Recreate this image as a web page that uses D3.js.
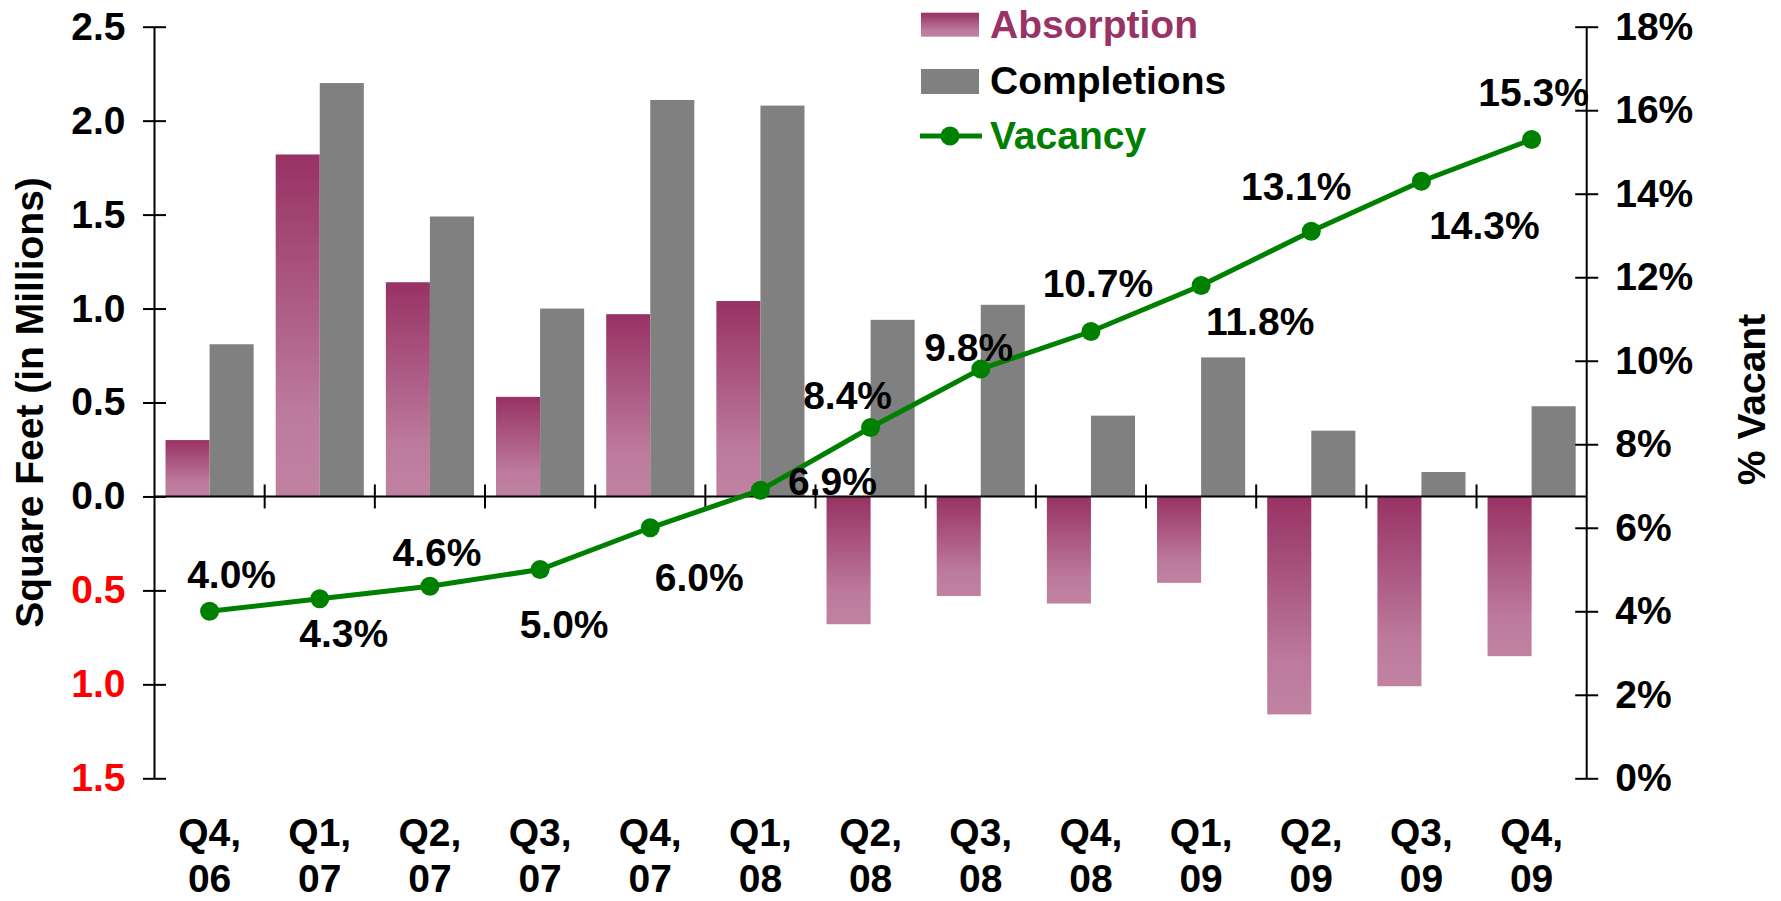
<!DOCTYPE html>
<html>
<head>
<meta charset="utf-8">
<script src="https://cdn.jsdelivr.net/npm/d3@7"></script>
<style>
  body { margin: 0; background: #fff; }
  svg text { font-family: "Liberation Sans", Arial, sans-serif; font-weight: bold; }
</style>
</head>
<body>
<svg width="1781" height="901"></svg>
<script>
// data
var quarters   = ["Q4,|06","Q1,|07","Q2,|07","Q3,|07","Q4,|07","Q1,|08","Q2,|08","Q3,|08","Q4,|08","Q1,|09","Q2,|09","Q3,|09","Q4,|09"];
var absorption = [0.30, 1.82, 1.14, 0.53, 0.97, 1.04, -0.68, -0.53, -0.57, -0.46, -1.16, -1.01, -0.85];
var completions = [0.81, 2.20, 1.49, 1.00, 2.11, 2.08, 0.94, 1.02, 0.43, 0.74, 0.35, 0.13, 0.48];
var vacancy    = [4.0, 4.3, 4.6, 5.0, 6.0, 6.9, 8.4, 9.8, 10.7, 11.8, 13.1, 14.3, 15.3];
var leftTicks  = [-1.5, -1.0, -0.5, 0, 0.5, 1.0, 1.5, 2.0, 2.5];
var rightTicks = [0, 2, 4, 6, 8, 10, 12, 14, 16, 18];

// where each vacancy label sits relative to its point (dx, baseline dy)
var labelDx = [22, 24, 7, 24, 49, 72, -23, -12, 7, 59, -15, 63, 2];
var labelDy = [-23, 48, -20, 68, 63, 5, -19, -8, -35, 49, -31, 58, -33];

var svg = d3.select("svg"),
    margin = {top: 26.7, right: 194.3, bottom: 122.7, left: 154.5},
    W = +svg.attr("width"), H = +svg.attr("height"),
    x0 = margin.left, x1 = W - margin.right,
    yTop = margin.top, yBot = H - margin.bottom;

var fontSize = 39;
var purple = "#993366", grey = "#808080", green = "#008000";

var x = d3.scaleBand().domain(quarters).range([x0, x1]).padding(0);
var xIn = d3.scaleBand().domain(["abs", "comp"]).range([0, x.bandwidth()]).paddingOuter(0.25).paddingInner(0);
var y = d3.scaleLinear().domain([-1.5, 2.5]).range([yBot, yTop]);
var yR = d3.scaleLinear().domain([0, 18]).range([yBot, yTop]);

// gradient for absorption bars
var grad = svg.append("defs").append("linearGradient")
    .attr("id", "absGrad")
    .attr("x1", 0).attr("y1", 0).attr("x2", 0).attr("y2", 1);
grad.append("stop").attr("offset", "0%").attr("stop-color", "#983264");
grad.append("stop").attr("offset", "75%").attr("stop-color", "#BC7A9C");
grad.append("stop").attr("offset", "100%").attr("stop-color", "#C182A2");

// bars
var groups = svg.append("g").selectAll("g")
    .data(quarters)
    .join("g")
    .attr("transform", function(d) { return "translate(" + x(d) + ",0)"; });

groups.append("rect")
    .attr("x", xIn("abs"))
    .attr("width", xIn.bandwidth())
    .attr("y", function(d, i) { return y(Math.max(0, absorption[i])); })
    .attr("height", function(d, i) { return Math.abs(y(absorption[i]) - y(0)); })
    .attr("fill", "url(#absGrad)");

groups.append("rect")
    .attr("x", xIn("comp"))
    .attr("width", xIn.bandwidth())
    .attr("y", function(d, i) { return y(Math.max(0, completions[i])); })
    .attr("height", function(d, i) { return Math.abs(y(completions[i]) - y(0)); })
    .attr("fill", grey);

// zero line with category ticks
svg.append("line")
    .attr("x1", x0).attr("x2", x1)
    .attr("y1", y(0)).attr("y2", y(0))
    .attr("stroke", "#000").attr("stroke-width", 2);

svg.append("g").selectAll("line")
    .data(quarters.slice(1))
    .join("line")
    .attr("x1", function(d) { return x(d); })
    .attr("x2", function(d) { return x(d); })
    .attr("y1", y(0) - 12).attr("y2", y(0) + 12)
    .attr("stroke", "#000").attr("stroke-width", 2);

// left axis
var yAxis = d3.axisLeft(y)
    .tickValues(leftTicks)
    .tickSize(11.5)
    .tickPadding(17.5)
    .tickFormat(function(d) { return Math.abs(d).toFixed(1); });

var gL = svg.append("g")
    .attr("transform", "translate(" + x0 + ",0)")
    .call(yAxis);
gL.select(".domain").attr("d", "M0," + yTop + "V" + yBot).attr("stroke-width", 2);
gL.selectAll(".tick line").attr("x1", 11.5).attr("stroke-width", 2);
gL.selectAll(".tick text")
    .attr("font-size", fontSize)
    .attr("fill", function(d) { return d < 0 ? "#FF0000" : "#000"; });

// right axis
var yAxisR = d3.axisRight(yR)
    .tickValues(rightTicks)
    .tickSize(11.5)
    .tickPadding(17)
    .tickFormat(function(d) { return d + "%"; });

var gR = svg.append("g")
    .attr("transform", "translate(" + x1 + ",0)")
    .call(yAxisR);
gR.select(".domain").attr("d", "M0," + yTop + "V" + yBot).attr("stroke-width", 2);
gR.selectAll(".tick line").attr("x1", -11.5).attr("stroke-width", 2);
gR.selectAll(".tick text").attr("font-size", fontSize).attr("fill", "#000");

// category labels (two lines)
var gX = svg.append("g")
    .attr("transform", "translate(0," + yBot + ")")
    .call(d3.axisBottom(x).tickSize(0));
gX.select(".domain").remove();
gX.selectAll(".tick text").each(function(d) {
  var parts = d.split("|");
  var t = d3.select(this).text(null).attr("dy", null).attr("y", 0)
      .attr("font-size", fontSize).attr("fill", "#000");
  t.append("tspan").attr("x", 0).attr("y", 68).text(parts[0]);
  t.append("tspan").attr("x", 0).attr("y", 114).text(parts[1]);
});

// vacancy line
var cx = function(d, i) { return x(quarters[i]) + x.bandwidth() / 2; };
var line = d3.line()
    .x(function(d, i) { return cx(d, i); })
    .y(function(d) { return yR(d); });

svg.append("path")
    .datum(vacancy)
    .attr("d", line)
    .attr("fill", "none")
    .attr("stroke", green)
    .attr("stroke-width", 5);

svg.append("g").selectAll("circle")
    .data(vacancy)
    .join("circle")
    .attr("cx", cx)
    .attr("cy", function(d) { return yR(d); })
    .attr("r", 9.5)
    .attr("fill", green);

svg.append("g").selectAll("text")
    .data(vacancy)
    .join("text")
    .attr("x", function(d, i) { return cx(d, i) + labelDx[i]; })
    .attr("y", function(d, i) { return yR(d) + labelDy[i]; })
    .attr("text-anchor", "middle")
    .attr("font-size", fontSize)
    .attr("fill", "#000")
    .text(function(d) { return d.toFixed(1) + "%"; });

// axis titles
svg.append("text")
    .attr("transform", "translate(43," + ((yTop + yBot) / 2) + ") rotate(-90)")
    .attr("text-anchor", "middle")
    .attr("font-size", fontSize)
    .text("Square Feet (in Millions)");

svg.append("text")
    .attr("transform", "translate(1765,399.5) rotate(-90)")
    .attr("text-anchor", "middle")
    .attr("font-size", fontSize)
    .text("% Vacant");

// legend
var legend = svg.append("g").attr("transform", "translate(921,0)");
legend.append("rect").attr("x", 0).attr("y", 12.7).attr("width", 58).attr("height", 24)
    .attr("fill", "url(#absGrad)");
legend.append("text").attr("x", 69).attr("y", 37.5).attr("font-size", fontSize)
    .attr("fill", purple).text("Absorption");

legend.append("rect").attr("x", 0).attr("y", 69).attr("width", 58).attr("height", 25)
    .attr("fill", grey);
legend.append("text").attr("x", 69).attr("y", 93.5).attr("font-size", fontSize)
    .attr("fill", "#000").text("Completions");

legend.append("line").attr("x1", -1).attr("x2", 61).attr("y1", 136).attr("y2", 136)
    .attr("stroke", green).attr("stroke-width", 5);
legend.append("circle").attr("cx", 29).attr("cy", 136).attr("r", 9.5).attr("fill", green);
legend.append("text").attr("x", 69).attr("y", 148.5).attr("font-size", fontSize)
    .attr("fill", green).text("Vacancy");
</script>
</body>
</html>
